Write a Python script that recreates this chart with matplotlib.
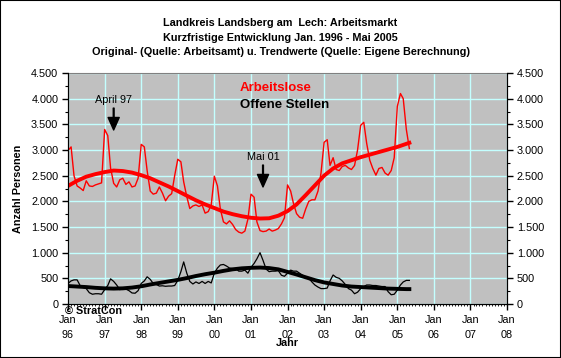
import matplotlib
matplotlib.use("Agg")
import matplotlib.pyplot as plt
import matplotlib.dates as mdates
from matplotlib.ticker import MultipleLocator, FuncFormatter
from matplotlib.patches import Rectangle
import pandas as pd

plt.rcParams["font.family"] = ["Liberation Sans", "DejaVu Sans"]

# Monthly original values Jan 1996 - May 2005
arbeitslose = [
    2990, 3060, 2500, 2300, 2260, 2210, 2400, 2300, 2290, 2320, 2340, 2360,  # 96
    3400, 3280, 2650, 2350, 2280, 2420, 2450, 2330, 2380, 2280, 2300, 2450,  # 97
    3110, 3060, 2600, 2200, 2140, 2160, 2280, 2160, 2010, 2100, 2150, 2500,  # 98
    2820, 2770, 2380, 2090, 1860, 1910, 1930, 1900, 1930, 1770, 1800, 1930,  # 99
    2490, 2300, 1850, 1600, 1560, 1620, 1550, 1450, 1400, 1380, 1420, 1650,  # 00
    2140, 2080, 1600, 1430, 1410, 1420, 1460, 1420, 1440, 1470, 1560, 1680,  # 01
    2320, 2200, 1960, 1760, 1690, 1670, 1850, 2000, 2030, 2030, 2200, 2550,  # 02
    3150, 3200, 2700, 2850, 2620, 2600, 2680, 2700, 2650, 2620, 2700, 3000,  # 03
    3480, 3540, 3130, 2800, 2640, 2510, 2640, 2660, 2550, 2510, 2600, 2850,  # 04
    3850, 4100, 4000, 3400, 3030,                                            # 05
]
offene_stellen = [
    400, 450, 470, 470, 360, 320, 300, 220, 190, 200, 200, 190,
    280, 360, 490, 440, 370, 280, 300, 290, 260, 215, 210, 260,
    400, 450, 530, 480, 400, 380, 350, 355, 345, 350, 350, 360,
    460, 630, 820, 600, 440, 390, 430, 400, 440, 400, 440, 410,
    600, 700, 760, 770, 740, 700, 690, 690, 640, 640, 660, 600,
    715, 790, 880, 1000, 850, 680, 630, 640, 640, 650, 560, 540,
    600, 660, 640, 640, 600, 560, 530, 500, 430, 370, 330, 300,
    300, 310, 450, 565, 520, 500, 450, 380, 300, 270, 200, 230,
    300, 340, 370, 370, 360, 360, 350, 340, 340, 240, 180, 190,
    270, 370, 430, 460, 460,
]

# Trend values (quarterly reading of the smooth trend curves)
trend_dates = [
    "1996-01", "1996-04", "1996-07", "1996-10", "1997-01", "1997-04", "1997-07", "1997-10",
    "1998-01", "1998-04", "1998-07", "1998-10", "1999-01", "1999-04", "1999-07", "1999-10",
    "2000-01", "2000-04", "2000-07", "2000-10", "2001-01", "2001-04", "2001-07", "2001-10",
    "2002-01", "2002-04", "2002-07", "2002-10", "2003-01", "2003-04", "2003-07", "2003-10",
    "2004-01", "2004-04", "2004-07", "2004-10", "2005-01", "2005-04", "2005-05",
]
trend_arbeitslose = [
    2300, 2400, 2480, 2530, 2570, 2600, 2590, 2560,
    2510, 2450, 2370, 2290, 2200, 2110, 2020, 1940,
    1870, 1800, 1750, 1710, 1680, 1665, 1670, 1720,
    1810, 1940, 2120, 2310, 2500, 2640, 2740, 2800,
    2860, 2910, 2960, 3010, 3060, 3120, 3140,
]
trend_offene = [
    350, 340, 330, 315, 305, 300, 305, 320,
    345, 380, 410, 440, 470, 505, 545, 580,
    610, 645, 675, 695, 705, 710, 700, 675,
    625, 575, 520, 465, 420, 390, 360, 340,
    330, 320, 310, 300, 295, 290, 290,
]

months = pd.date_range("1996-01-01", periods=len(arbeitslose), freq="MS")
tdates = pd.to_datetime(trend_dates)

fig = plt.figure(figsize=(5.61, 3.58), dpi=100)
fig.patches.append(Rectangle((0, 0), 1, 1, transform=fig.transFigure,
                             fill=False, edgecolor="black", linewidth=1.5))
ax = fig.add_axes([68 / 561, 54 / 358, 439 / 561, 231 / 358])
ax.set_facecolor("#C0C0C0")

ax.plot(months, arbeitslose, color="#FF0000", linewidth=1, zorder=3)
ax.plot(tdates, trend_arbeitslose, color="#FF0000", linewidth=2.8, zorder=4)
ax.plot(months, offene_stellen, color="black", linewidth=0.9, zorder=3)
ax.plot(tdates, trend_offene, color="black", linewidth=2.8, zorder=4)

ax.set_xlim(pd.Timestamp("1996-01-01"), pd.Timestamp("2008-01-01"))
ax.set_ylim(0, 4500)

ax.xaxis.set_major_locator(mdates.YearLocator())
ax.xaxis.set_minor_locator(mdates.MonthLocator())
ax.xaxis.set_major_formatter(FuncFormatter(
    lambda x, pos: "Jan\n" + mdates.num2date(x).strftime("%y")))
ax.yaxis.set_major_locator(MultipleLocator(500))
ax.yaxis.set_minor_locator(MultipleLocator(250))
fmt = FuncFormatter(lambda v, pos: f"{int(v):,}".replace(",", "."))
ax.yaxis.set_major_formatter(fmt)

ax.grid(True, which="major", color="#C4FFFF", linewidth=1, zorder=1)
ax.set_axisbelow(True)

for s in ("left", "right", "bottom"):
    ax.spines[s].set_color("black")
ax.spines["top"].set_color("#808080")

ax.tick_params(axis="x", which="major", direction="out", length=4, width=1,
               labelsize=7.8, pad=4)
ax.tick_params(axis="x", which="minor", direction="out", length=1.5, width=0.6)
ax.tick_params(axis="y", which="major", direction="out", length=4, width=1,
               labelsize=7.8, pad=3)
ax.tick_params(axis="y", which="minor", direction="out", length=2.5, width=0.8)
for lbl in ax.get_xticklabels():
    lbl.set_linespacing(1.65)

ax2 = ax.twinx()
ax2.set_ylim(0, 4500)
ax2.yaxis.set_major_locator(MultipleLocator(500))
ax2.yaxis.set_minor_locator(MultipleLocator(250))
ax2.yaxis.set_major_formatter(fmt)
ax2.tick_params(axis="y", which="major", direction="out", length=4, width=1,
                labelsize=7.8, pad=3)
ax2.tick_params(axis="y", which="minor", direction="out", length=2.5, width=0.8)
ax2.spines["top"].set_visible(False)

ax.set_ylabel("Anzahl Personen", fontsize=7.8, fontweight="bold", labelpad=6)
ax.set_xlabel("Jahr", fontsize=7.8, fontweight="bold", labelpad=-2)

title = ("Landkreis Landsberg am  Lech: Arbeitsmarkt\n"
         "Kurzfristige Entwicklung Jan. 1996 - Mai 2005\n"
         "Original- (Quelle: Arbeitsamt) u. Trendwerte (Quelle: Eigene Berechnung)")
fig.text(0.5, 1 - 18.5 / 358, title, ha="center", va="top", fontsize=7.8,
         fontweight="bold", linespacing=1.55)

ax.text(0.392, 0.935, "Arbeitslose", transform=ax.transAxes, color="#FF0000",
        fontsize=9.5, fontweight="bold", va="center")
ax.text(0.392, 0.86, "Offene Stellen", transform=ax.transAxes, color="black",
        fontsize=9.5, fontweight="bold", va="center")

arrow = dict(facecolor="black", edgecolor="black", width=0.6, headwidth=8,
             headlength=9, shrink=0)
ax.annotate("April 97", xy=(pd.Timestamp("1997-04-01"), 3390),
            xytext=(pd.Timestamp("1997-04-01"), 3870),
            fontsize=7.8, ha="center", va="bottom", arrowprops=arrow)
ax.annotate("Mai 01", xy=(pd.Timestamp("2001-05-01"), 2280),
            xytext=(pd.Timestamp("2001-05-01"), 2760),
            fontsize=7.8, ha="center", va="bottom", arrowprops=arrow)

fig.text(65 / 561, 1 - 311 / 358, "\u00a9 StratCon", fontsize=7.8,
         fontweight="bold", va="center", ha="left")

fig.savefig("out.png", dpi=100)
